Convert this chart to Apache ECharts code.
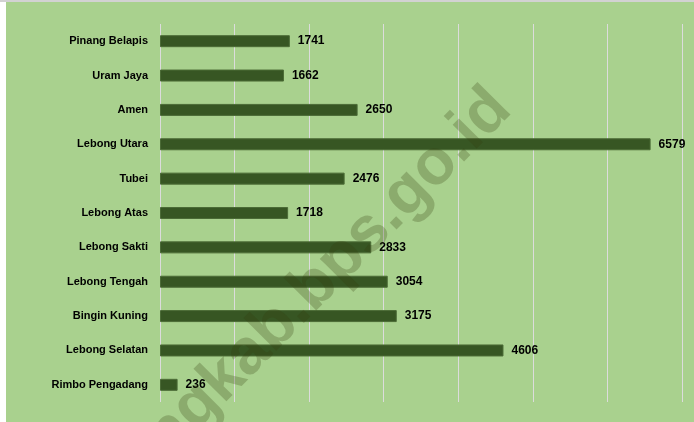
<!DOCTYPE html>
<html>
<head>
<meta charset="utf-8">
<script src="https://cdn.jsdelivr.net/npm/echarts@6/dist/echarts.min.js"></script>
<style>
html,body{margin:0;padding:0;background:#fff;}
#main{width:694px;height:422px;}
</style>
</head>
<body>
<div id="main"></div>
<script>
// data kecamatan (urut dari atas)
var kecamatan = ['Pinang Belapis','Uram Jaya','Amen','Lebong Utara','Tubei','Lebong Atas','Lebong Sakti','Lebong Tengah','Bingin Kuning','Lebong Selatan','Rimbo Pengadang'];
var jumlah = [1741, 1662, 2650, 6579, 2476, 1718, 2833, 3054, 3175, 4606, 236];
var sumbuMin = 0, sumbuMax = 7000, sumbuStep = 1000;

var myChart = echarts.init(document.getElementById('main'));

var option = {
    animation: false,
    backgroundColor: '#a9d18e',
    grid: {
        left: 160,
        right: 12,
        top: 24,
        bottom: 20,
        containLabel: false,
        outerBoundsMode: 'none'
    },
    xAxis: {
        type: 'value',
        min: sumbuMin,
        max: sumbuMax,
        interval: sumbuStep,
        axisLabel: {show: false},
        axisLine: {show: false},
        axisTick: {show: false},
        splitLine: {show: true, lineStyle: {color: '#dcdcdc', width: 1}}
    },
    yAxis: {
        type: 'category',
        inverse: true,
        data: kecamatan,
        axisLine: {show: false},
        axisTick: {show: false},
        axisLabel: {
            margin: 12,
            color: '#000',
            fontFamily: 'Arial, "Liberation Sans", sans-serif',
            fontWeight: 'bold',
            fontSize: 11
        }
    },
    series: [{
        type: 'bar',
        data: jumlah,
        barWidth: 12,
        itemStyle: {color: '#375623', borderColor: '#4b6b36', borderWidth: 1},
        label: {
            show: true,
            position: 'right',
            distance: 8,
            color: '#000',
            fontFamily: 'Arial, "Liberation Sans", sans-serif',
            fontWeight: 'bold',
            fontSize: 12
        }
    }],
    graphic: [
        {type: 'rect', left: 0, top: 0, shape: {width: 6, height: 422}, style: {fill: '#ffffff'}, z: 1},
        {type: 'rect', left: 0, top: 0, shape: {width: 694, height: 2}, style: {fill: '#d2d2d2'}, z: 1},
        {
            type: 'text',
            x: 282, y: 320,
            rotation: 0.79,
            z: 100,
            silent: true,
            style: {
                text: 'lebongkab.bps.go.id',
                font: 'bold 64px Arial, sans-serif',
                fill: 'rgba(50,60,10,0.25)',
                align: 'center',
                verticalAlign: 'middle'
            }
        }
    ]
};

myChart.setOption(option);
</script>
</body>
</html>
